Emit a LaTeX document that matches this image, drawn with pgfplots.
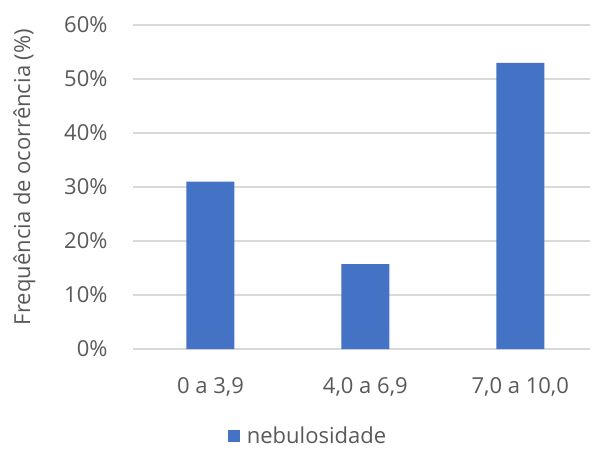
\documentclass[border=0pt]{standalone}
\usepackage{fontspec}
\setmainfont{Open Sans}
\usepackage{pgfplots}
\pgfplotsset{compat=1.18}
\definecolor{barblue}{HTML}{4472C4}
\definecolor{txtgray}{HTML}{595959}
\definecolor{gridgray}{HTML}{D9D9D9}
\begin{document}
\fontsize{22}{26}\selectfont
\begin{tikzpicture}[x=1pt,y=1pt]
\useasboundingbox (0,0) rectangle (591,-457);
\begin{axis}[
  at={(133pt,-349pt)}, anchor=south west,
  scale only axis,
  width=457pt, height=324pt,
  xmin=-0.5, xmax=2.45,
  ymin=0, ymax=60,
  ybar, bar width=48pt,
  xtick={0,1,2},
  xticklabels={0 a 3{,}9, 4{,}0 a 6{,}9, 7{,}0 a 10{,}0},
  ytick={0,10,20,30,40,50,60},
  yticklabels={0\%,10\%,20\%,30\%,40\%,50\%,60\%},
  major tick length=0pt,
  axis line style={draw=none},
  ymajorgrids,
  grid style={gridgray, line width=1.3pt},
  tick label style={text=txtgray, font=\fontsize{22}{26}\selectfont},
  xticklabel style={anchor=base, yshift=-44pt},
  yticklabel style={anchor=east, xshift=-18pt},
  ylabel={Frequência de ocorrência (\%)},
  every axis y label/.style={at={(axis description cs:-0.238,0.531)}, rotate=90, anchor=center,
    text=txtgray, font=\fontsize{22}{26}\selectfont},
  legend style={at={(axis description cs:0.383,-0.272)}, anchor=center, draw=none, fill=none,
    text=txtgray, font=\fontsize{22}{26}\selectfont, inner sep=0pt},
  legend image code/.code={\fill[barblue] (0pt,-5pt) rectangle (12pt,7pt); \path (17pt,0pt);},
  clip=false,
]
\addplot[fill=barblue, draw=none] coordinates {(0,31) (1,15.7) (2,53)};
\addlegendentry{nebulosidade}
\end{axis}
\end{tikzpicture}
\end{document}
